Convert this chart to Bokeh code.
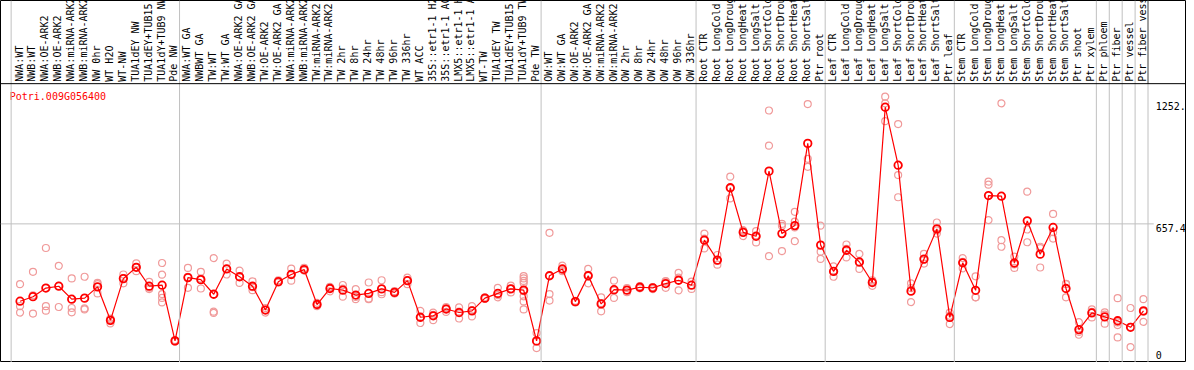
import numpy as np
from bokeh.plotting import figure
from bokeh.models import Range1d, Span
from bokeh.core.properties import value
from bokeh.embed import file_html
from bokeh.resources import INLINE

gene = "Potri.009G056400"

categories = [
    "NWA:WT", "NWB:WT", "NWA:OE-ARK2", "NWB:OE-ARK2", "NWA:miRNA-ARK2", "NWB:miRNA-ARK2",
    "NW 0hr", "WT H2O", "WT-NW", "TUA1dEY NW", "TUA1dEY+TUB15 NW", "TUA1dY+TUB9 NW", "Pde NW",
    "NWA:WT GA", "NWBWT GA", "TW:WT", "TW:WT GA", "NWA:OE-ARK2 GA", "NWB:OE-ARK2 GA",
    "TW:OE-ARK2", "TW:OE-ARK2 GA", "NWA:miRNA-ARK2", "NWB:miRNA-ARK2", "TW:miRNA-ARK2",
    "TW:miRNA-ARK2", "TW 2hr", "TW 8hr", "TW 24hr", "TW 48hr", "TW 96hr", "TW 336hr",
    "WT ACC", "35S::etr1-1 H2O", "35S::etr1-1 ACC", "LMX5::etr1-1 H2O", "LMX5::etr1-1 ACC",
    "WT-TW", "TUA1dEY TW", "TUA1dEY+TUB15 TW", "TUA1dY+TUB9 TW", "Pde TW",
    "OW:WT", "OW:WT GA", "OW:OE-ARK2", "OW:OE-ARK2 GA", "OW:miRNA-ARK2", "OW:miRNA-ARK2",
    "OW 2hr", "OW 8hr", "OW 24hr", "OW 48hr", "OW 96hr", "OW 336hr",
    "Root CTR", "Root LongCold", "Root LongDrought", "Root LongHeat", "Root LongSalt",
    "Root ShortCold", "Root ShortDrought", "Root ShortHeat", "Root ShortSalt", "Ptr root",
    "Leaf CTR", "Leaf LongCold", "Leaf LongDrought", "Leaf LongHeat", "Leaf LongSalt",
    "Leaf ShortCold", "Leaf ShortDrought", "Leaf ShortHeat", "Leaf ShortSalt", "Ptr leaf",
    "Stem CTR", "Stem LongCold", "Stem LongDrought", "Stem LongHeat", "Stem LongSalt",
    "Stem ShortCold", "Stem ShortDrought", "Stem ShortHeat", "Stem ShortSalt", "Ptr shoot",
    "Ptr xylem", "Ptr phloem", "Ptr fiber", "Ptr vessel", "Ptr fiber vessel",
]

means = [
    281, 303, 345, 354, 291, 296, 351, 188, 391, 446, 354, 359, 88,
    396, 386, 315, 438, 400, 354, 238, 376, 411, 435, 265, 343, 335, 311, 319, 341, 324, 381,
    203, 210, 243, 226, 234, 296, 319, 341, 335, 88,
    405, 438, 279, 405, 268, 337, 335, 349, 346, 367, 383, 359,
    578, 481, 833, 616, 597, 914, 610, 649, 1049, 554,
    426, 529, 472, 372, 1225, 943, 330, 486, 633, 202,
    468, 334, 795, 792, 467, 672, 510, 640, 343, 143,
    224, 205, 186, 154, 234,
]

replicates = [
    [364, 257, 226], [424, 310, 221], [540, 257, 235], [453, 253, 356], [392, 248, 227],
    [400, 246, 241], [364, 319, 370], [197, 173, 194], [411, 368, 394], [465, 427, 446],
    [375, 340, 347], [467, 410, 316, 297, 275], [84, 92, 88],
    [443, 346, 399], [424, 343, 391], [491, 230, 224], [464, 411, 439], [430, 370, 400],
    [378, 335, 349], [248, 226, 240], [383, 373, 372], [440, 381, 412], [443, 430, 432],
    [257, 273, 265], [351, 329, 349], [360, 303, 342], [340, 291, 302], [372, 291, 294],
    [383, 315, 325], [330, 318, 324], [396, 364, 383],
    [234, 175, 200], [226, 189, 215], [253, 229, 247], [251, 197, 230], [257, 207, 238],
    [300, 292, 296], [346, 300, 311], [357, 324, 342],
    [403, 392, 380, 370, 330, 305, 280, 241], [126, 53, 85],
    [614, 316, 284], [454, 427, 433], [283, 275, 279], [438, 368, 409], [300, 232, 272],
    [381, 297, 333], [345, 325, 335], [354, 344, 349], [340, 350, 348], [379, 346, 376],
    [419, 334, 396], [376, 341, 360],
    [610, 538, 586], [506, 459, 478], [887, 781, 831], [627, 598, 623], [622, 567, 602],
    [1209, 1038, 500], [657, 525, 648], [716, 668, 573, 640], [1240, 974, 935], [649, 522, 487],
    [451, 400, 427], [557, 494, 536], [511, 438, 467], [383, 356, 377], [1276, 1244, 1157],
    [1143, 895, 787], [368, 277, 345], [511, 464, 483], [664, 610, 625], [226, 170, 210],
    [491, 441, 472], [402, 300, 300], [863, 848, 676], [1244, 578, 546], [498, 443, 460],
    [814, 630, 568], [546, 445, 539], [706, 617, 586], [364, 300, 365], [179, 118, 132],
    [241, 202, 229], [227, 172, 216], [296, 165, 105, 178], [248, 58, 156], [291, 181, 230],
]

# group separators: after these category indices
group_ends = [12, 40, 52, 62, 72, 83, 84, 85, 86, 87]

y_ticks = [0, 657.4, 1252.6]
y_tick_labels = ["0", "657.4", "1252.6"]

# ---------------- layout helpers (pixel geometry of the original) ----------------
X0, DX = 19.7, 13.0          # px of first category, px per category
Y0, KY = 366.4, 0.21007      # px of value 0, px per unit value
W_ORIG, H_ORIG = 1194, 370


def vx(px):
    return (px - X0) / DX


def vy(py):
    return (Y0 - py) / KY


W, H = 1186, 362
p = figure(width=W, height=H, output_backend="svg", toolbar_location=None,
           x_range=Range1d(vx(0), vx(W_ORIG)), y_range=Range1d(vy(H_ORIG), vy(0)),
           x_axis_type=None, y_axis_type=None, min_border=0,
           outline_line_color="black", outline_line_width=1)
p.xgrid.visible = False
p.ygrid.visible = False

idx = list(range(len(categories)))
GRID = "#c0c0c0"
RED = "#ff0000"
PINK = "#f09a9a"
FONT = value("DejaVu Sans Mono")

# separators
sep_locs = [vx(10.7)] + [i + 0.35 for i in group_ends]
for s in sep_locs:
    p.add_layout(Span(location=s, dimension="height", line_color=GRID, line_width=1))

# header bottom line
p.add_layout(Span(location=vy(85), dimension="width", line_color="black", line_width=1))
# black right edge of header box
p.segment(x0=[group_ends[-1] + 0.35], y0=[vy(85)], x1=[group_ends[-1] + 0.35], y1=[vy(0)],
          line_color="black", line_width=1)

# horizontal gridline at middle tick
p.segment(x0=[vx(0)], y0=[y_ticks[1]], x1=[vx(1161)], y1=[y_ticks[1]],
          line_color=GRID, line_width=1)

# replicate points
rx, ry = [], []
for i, reps in enumerate(replicates):
    for r in reps:
        rx.append(i)
        ry.append(r)
p.scatter(rx, ry, marker="circle", size=7, fill_color=None, line_color=PINK, line_width=1.2)

# mean line & markers
p.line(idx, means, line_color=RED, line_width=1.2)
p.scatter(idx, means, marker="circle", size=7.5, fill_color=None, line_color=RED, line_width=1.8)

# category labels (rotated)
p.text(x=[i - 0.08 for i in idx], y=[vy(83)] * len(idx), text=categories, angle=np.pi / 2,
       text_align="left", text_baseline="middle", text_font=FONT, text_font_size="10px",
       text_color="black")

# gene title
p.text(x=[vx(9.3)], y=[vy(92)], text=[gene], text_align="left", text_baseline="top",
       text_font=FONT, text_font_size="10px", text_color=RED)

# right-side tick labels
p.text(x=[vx(1163)] * 2, y=y_ticks[1:], text=y_tick_labels[1:], text_align="left",
       text_baseline="top", text_font=FONT, text_font_size="10px", text_color="black")
p.text(x=[vx(1163)], y=[y_ticks[0]], text=[y_tick_labels[0]], text_align="left",
       text_baseline="bottom", text_font=FONT, text_font_size="10px", text_color="black")

open("out.html", "w").write(file_html(p, INLINE))
